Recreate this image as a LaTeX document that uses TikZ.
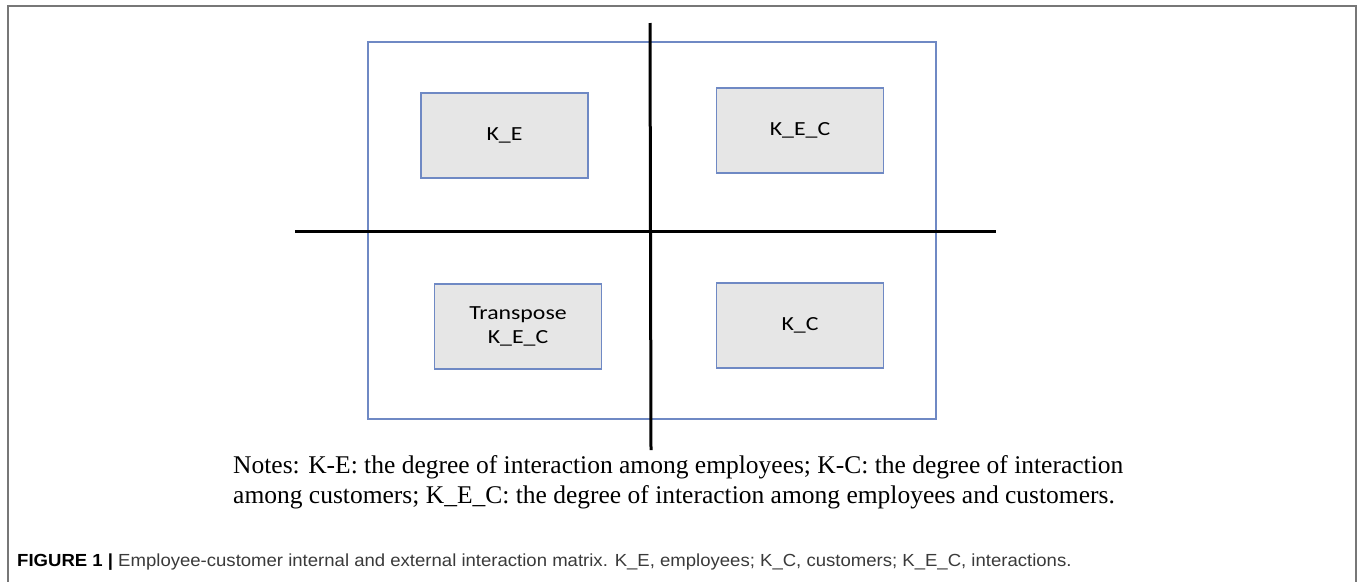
\documentclass[tikz,border=0pt]{standalone}
\usepackage{fontspec}
\setmainfont{Liberation Serif}
\newfontfamily\boxfont{Carlito}
\newfontfamily\capfont{Liberation Sans}
\definecolor{frameblue}{HTML}{6F89C4}
\definecolor{boxgray}{HTML}{E6E6E6}
\definecolor{framegray}{HTML}{777777}
\definecolor{captext}{HTML}{3A3A3A}
\newcommand{\wide}[1]{\scalebox{1.19}[1]{#1}}
\begin{document}
\begin{tikzpicture}[x=1pt,y=-1pt,
  quad/.style={draw=frameblue,line width=1.3pt,fill=boxgray,minimum width=167pt,minimum height=85pt,inner sep=0pt,font=\boxfont\fontsize{20}{23.5}\selectfont,align=center},
  axis/.style={line width=3pt,black},
  notes/.style={anchor=base west,inner sep=0pt,font=\fontsize{25.5}{30}\selectfont},
  caption/.style={anchor=base west,inner sep=0pt,font=\capfont\fontsize{17.5}{20}\selectfont,text=captext}]
\useasboundingbox (0,0) rectangle (1360,581);
\fill[white] (0,0) rectangle (1360,581);
% outer figure frame (open at the bottom)
\draw[framegray,line width=2pt] (8,585) -- (8,6) -- (1356,6) -- (1356,585);
% matrix frame
\node[draw=frameblue,line width=1.3pt,minimum width=568pt,minimum height=377pt,inner sep=0pt] (mat) at (652,230.5) {};
% axes
\coordinate (vtop) at (650,23);
\coordinate (vbot) at (651,450);
\coordinate (hl) at (295,231.5);
\coordinate (hr) at (996,231.5);
\draw[axis] (vtop) -- (vbot);
\draw[axis] (hl) -- (hr);
% quadrant boxes
\node[quad] (ke) at (504.5,135.5) {\wide{K\_E}};
\node[quad] (kec) at (800,130.5) {\wide{K\_E\_C}};
\node[quad] (tkec) at (518,326.5) {\wide{Transpose}\\\wide{K\_E\_C}};
\node[quad] (kc) at (800,325.5) {\wide{K\_C}};
% notes
\node[notes] (n1) at (233,473) {Notes: K-E: the degree of interaction among employees; K-C: the degree of interaction};
\node[notes] (n2) at (233,503) {among customers; K\_E\_C: the degree of interaction among employees and customers.};
% caption
\node[caption] (cap) at (17,566) {\scalebox{1.06}[1]{\textcolor{black}{\bfseries FIGURE 1 |} Employee-customer internal and external interaction matrix. K\_E, employees; K\_C, customers; K\_E\_C, interactions.}};
\end{tikzpicture}
\end{document}
